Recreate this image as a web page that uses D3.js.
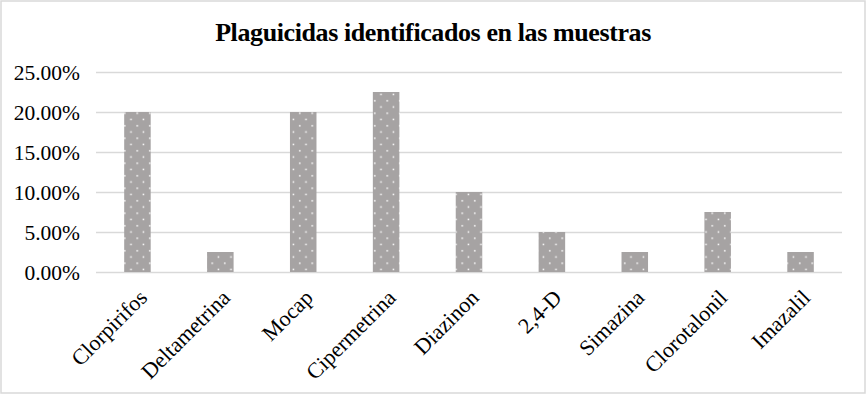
<!DOCTYPE html>
<html>
<head>
<meta charset="utf-8">
<script src="https://cdn.jsdelivr.net/npm/d3@7"></script>
<style>
  body { margin: 0; background: #fff; }
  svg { display: block; }
</style>
</head>
<body>
<div id="chart"></div>
<script>
const plaguicidas = ['Clorpirifos', 'Deltametrina', 'Mocap', 'Cipermetrina', 'Diazinon', '2,4-D', 'Simazina', 'Clorotalonil', 'Imazalil'];
const porcentajes = [0.20, 0.025, 0.20, 0.225, 0.10, 0.05, 0.025, 0.075, 0.025];
const yTicks = [0, 0.05, 0.10, 0.15, 0.20, 0.25];

const width = 866, height = 394;
const margin = { top: 72, right: 24, bottom: 122, left: 96 };
const innerWidth = width - margin.left - margin.right;
const innerHeight = height - margin.top - margin.bottom;

const data = plaguicidas.map((p, i) => ({ name: p, value: porcentajes[i] }));

const svg = d3.select('#chart').append('svg')
  .attr('width', width)
  .attr('height', height);

// dotted fill like the original
const defs = svg.append('defs');
const pat = defs.append('pattern')
  .attr('id', 'dots')
  .attr('patternUnits', 'userSpaceOnUse')
  .attr('width', 12.5)
  .attr('height', 12.5);
pat.append('rect').attr('width', 12.5).attr('height', 12.5).attr('fill', '#a6a3a3');
pat.append('rect').attr('x', 3).attr('y', 3).attr('width', 1.5).attr('height', 1.5).attr('fill', '#fff');
pat.append('rect').attr('x', 9.25).attr('y', 9.25).attr('width', 1.5).attr('height', 1.5).attr('fill', '#fff');

// outer border
svg.append('rect')
  .attr('x', 1).attr('y', 1)
  .attr('width', width - 2).attr('height', height - 2)
  .attr('fill', 'none')
  .attr('stroke', '#d9d9d9')
  .attr('stroke-width', 1.5);

svg.append('text')
  .attr('x', 433)
  .attr('y', 41)
  .attr('text-anchor', 'middle')
  .style('font-family', '"Liberation Serif", "Times New Roman", serif')
  .style('font-weight', 'bold')
  .style('font-size', '26px')
  .style('letter-spacing', '-0.4px')
  .text('Plaguicidas identificados en las muestras');

const g = svg.append('g')
  .attr('transform', `translate(${margin.left},${margin.top})`);

const x = d3.scaleBand()
  .domain(plaguicidas)
  .range([0, innerWidth])
  .paddingInner(0.68)
  .paddingOuter(0.34);

const y = d3.scaleLinear()
  .domain([0, 0.25])
  .range([innerHeight, 0]);

// gridlines
g.append('g')
  .call(d3.axisLeft(y).tickValues(yTicks).tickSize(-innerWidth).tickFormat(''))
  .call(a => a.select('.domain').remove())
  .call(a => a.selectAll('line').attr('stroke', '#d9d9d9').attr('stroke-width', 1.3));

// bars
g.selectAll('.bar')
  .data(data)
  .enter().append('rect')
  .attr('class', 'bar')
  .attr('x', d => x(d.name))
  .attr('y', d => y(d.value))
  .attr('width', x.bandwidth())
  .attr('height', d => innerHeight - y(d.value))
  .attr('fill', 'url(#dots)');

// y axis labels
g.append('g')
  .call(d3.axisLeft(y).tickValues(yTicks).tickSize(0).tickPadding(16).tickFormat(d3.format('.2%')))
  .call(a => a.select('.domain').remove())
  .call(a => a.selectAll('text')
    .attr('fill', '#000')
    .attr('dy', '0.35em')
    .style('font-family', '"Liberation Serif", "Times New Roman", serif')
    .style('font-size', '21.5px'));

// x axis labels
g.append('g')
  .attr('transform', `translate(0,${innerHeight})`)
  .call(d3.axisBottom(x).tickSize(0).tickPadding(0))
  .call(a => a.select('.domain').remove())
  .call(a => a.selectAll('text')
    .attr('fill', '#000')
    .attr('text-anchor', 'end')
    .attr('dy', 0)
    .attr('transform', 'translate(11,27) rotate(-45)')
    .style('font-family', '"Liberation Serif", "Times New Roman", serif')
    .style('font-size', '22px'));
</script>
</body>
</html>
